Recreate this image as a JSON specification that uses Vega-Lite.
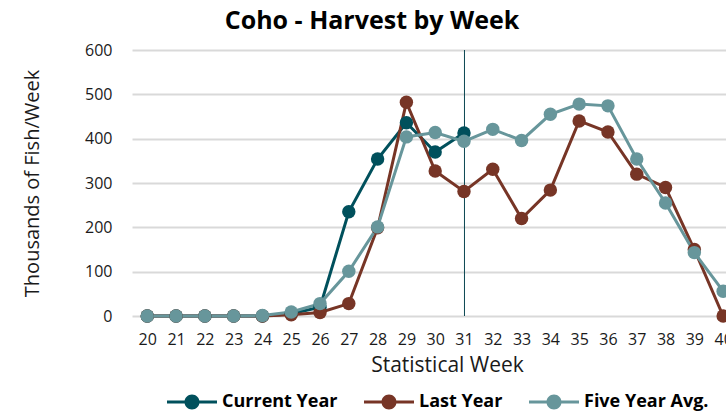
{
  "$schema": "https://vega.github.io/schema/vega-lite/v6.json",
  "width": 594,
  "height": 266,
  "autosize": {"type": "none"},
  "padding": {"left": 132, "top": 50, "right": 0, "bottom": 99},
  "background": "white",
  "title": {
    "text": "Coho - Harvest by Week",
    "font": "Open Sans",
    "fontSize": 25,
    "fontWeight": "bold",
    "color": "#000000",
    "anchor": "middle",
    "frame": "group",
    "dx": -57,
    "baseline": "alphabetic",
    "offset": -12
  },
  "config": {
    "view": {"stroke": null},
    "axis": {
      "labelFont": "Open Sans",
      "titleFont": "Open Sans",
      "labelColor": "#1a1a1a",
      "titleColor": "#1a1a1a",
      "titleFontWeight": "normal"
    },
    "axisX": {"labelOverlap": false, "labelBound": false, "labelFlush": false}
  },
  "datasets": {
    "harvest": [
      {"week": 20, "series": "Current Year", "value": 0},
      {"week": 21, "series": "Current Year", "value": 0},
      {"week": 22, "series": "Current Year", "value": 0},
      {"week": 23, "series": "Current Year", "value": 0},
      {"week": 24, "series": "Current Year", "value": 0},
      {"week": 25, "series": "Current Year", "value": 5},
      {"week": 26, "series": "Current Year", "value": 20},
      {"week": 27, "series": "Current Year", "value": 235},
      {"week": 28, "series": "Current Year", "value": 354},
      {"week": 29, "series": "Current Year", "value": 436},
      {"week": 30, "series": "Current Year", "value": 370},
      {"week": 31, "series": "Current Year", "value": 413},
      {"week": 20, "series": "Last Year", "value": 0},
      {"week": 21, "series": "Last Year", "value": 0},
      {"week": 22, "series": "Last Year", "value": 0},
      {"week": 23, "series": "Last Year", "value": 0},
      {"week": 24, "series": "Last Year", "value": 0},
      {"week": 25, "series": "Last Year", "value": 3},
      {"week": 26, "series": "Last Year", "value": 8},
      {"week": 27, "series": "Last Year", "value": 28},
      {"week": 28, "series": "Last Year", "value": 199},
      {"week": 29, "series": "Last Year", "value": 482},
      {"week": 30, "series": "Last Year", "value": 327},
      {"week": 31, "series": "Last Year", "value": 281},
      {"week": 32, "series": "Last Year", "value": 331},
      {"week": 33, "series": "Last Year", "value": 220},
      {"week": 34, "series": "Last Year", "value": 284},
      {"week": 35, "series": "Last Year", "value": 440},
      {"week": 36, "series": "Last Year", "value": 415},
      {"week": 37, "series": "Last Year", "value": 320},
      {"week": 38, "series": "Last Year", "value": 290},
      {"week": 39, "series": "Last Year", "value": 150},
      {"week": 40, "series": "Last Year", "value": 0},
      {"week": 20, "series": "Five Year Avg.", "value": 0},
      {"week": 21, "series": "Five Year Avg.", "value": 0},
      {"week": 22, "series": "Five Year Avg.", "value": 0},
      {"week": 23, "series": "Five Year Avg.", "value": 0},
      {"week": 24, "series": "Five Year Avg.", "value": 1},
      {"week": 25, "series": "Five Year Avg.", "value": 9},
      {"week": 26, "series": "Five Year Avg.", "value": 28},
      {"week": 27, "series": "Five Year Avg.", "value": 101},
      {"week": 28, "series": "Five Year Avg.", "value": 201},
      {"week": 29, "series": "Five Year Avg.", "value": 404},
      {"week": 30, "series": "Five Year Avg.", "value": 414},
      {"week": 31, "series": "Five Year Avg.", "value": 394},
      {"week": 32, "series": "Five Year Avg.", "value": 421},
      {"week": 33, "series": "Five Year Avg.", "value": 396},
      {"week": 34, "series": "Five Year Avg.", "value": 455},
      {"week": 35, "series": "Five Year Avg.", "value": 478},
      {"week": 36, "series": "Five Year Avg.", "value": 474},
      {"week": 37, "series": "Five Year Avg.", "value": 354},
      {"week": 38, "series": "Five Year Avg.", "value": 255},
      {"week": 39, "series": "Five Year Avg.", "value": 143},
      {"week": 40, "series": "Five Year Avg.", "value": 56}
    ],
    "marker": [{"week": 31, "value": 0, "high": 600}]
  },
  "encoding": {
    "x": {
      "field": "week",
      "type": "quantitative",
      "scale": {"domain": [19.47, 40.1], "nice": false, "zero": false},
      "axis": {
        "values": [20,21,22,23,24,25,26,27,28,29,30,31,32,33,34,35,36,37,38,39,40],
        "title": "Statistical Week",
        "titleFontSize": 21,
        "titleX": 315,
        "titlePadding": 7,
        "labelFontSize": 16,
        "labelPadding": 15,
        "labelOverlap": false,
        "ticks": false,
        "tickSize": 0,
        "domain": false,
        "grid": false
      }
    },
    "y": {
      "field": "value",
      "type": "quantitative",
      "scale": {"domain": [0, 600], "nice": false},
      "axis": {
        "values": [0, 100, 200, 300, 400, 500, 600],
        "title": "Thousands of Fish/Week",
        "titleFontSize": 20,
        "titlePadding": 42,
        "labelFontSize": 16,
        "labelPadding": 20,
        "ticks": false,
        "tickSize": 0,
        "domain": false,
        "grid": true,
        "gridColor": "#d9d9d9",
        "gridWidth": 2
      }
    }
  },
  "layer": [
    {
      "data": {"name": "harvest"},
      "mark": {"type": "line", "strokeWidth": 3},
      "encoding": {
        "color": {
          "field": "series",
          "type": "nominal",
          "scale": {
            "domain": ["Current Year", "Last Year", "Five Year Avg."],
            "range": ["#00505c", "#773526", "#67969b"]
          },
          "legend": {
            "title": null,
            "orient": "none",
            "direction": "horizontal",
            "legendX": 35,
            "legendY": 327,
            "symbolType": "M-1,-0.06 L1,-0.06 L1,0.06 L-1,0.06 Z M0.3,0 A0.3,0.3 0 1,1 -0.3,0 A0.3,0.3 0 1,1 0.3,0 Z",
            "symbolSize": 2500,
            "symbolStrokeWidth": 0,
            "symbolOpacity": 1,
            "labelFont": "Open Sans",
            "labelFontSize": 18,
            "labelFontWeight": "bold",
            "labelColor": "#000000",
            "labelOffset": 5,
            "columnPadding": 26,
            "labelLimit": 300
          }
        }
      }
    },
    {
      "data": {"name": "marker"},
      "mark": {"type": "rule", "color": "#0b4652", "strokeWidth": 1, "xOffset": 0.5},
      "encoding": {
        "y2": {"field": "high"}
      }
    },
    {
      "data": {"name": "harvest"},
      "mark": {"type": "point", "filled": true, "opacity": 1, "size": 180},
      "encoding": {
        "color": {"field": "series", "type": "nominal"}
      }
    }
  ]
}
